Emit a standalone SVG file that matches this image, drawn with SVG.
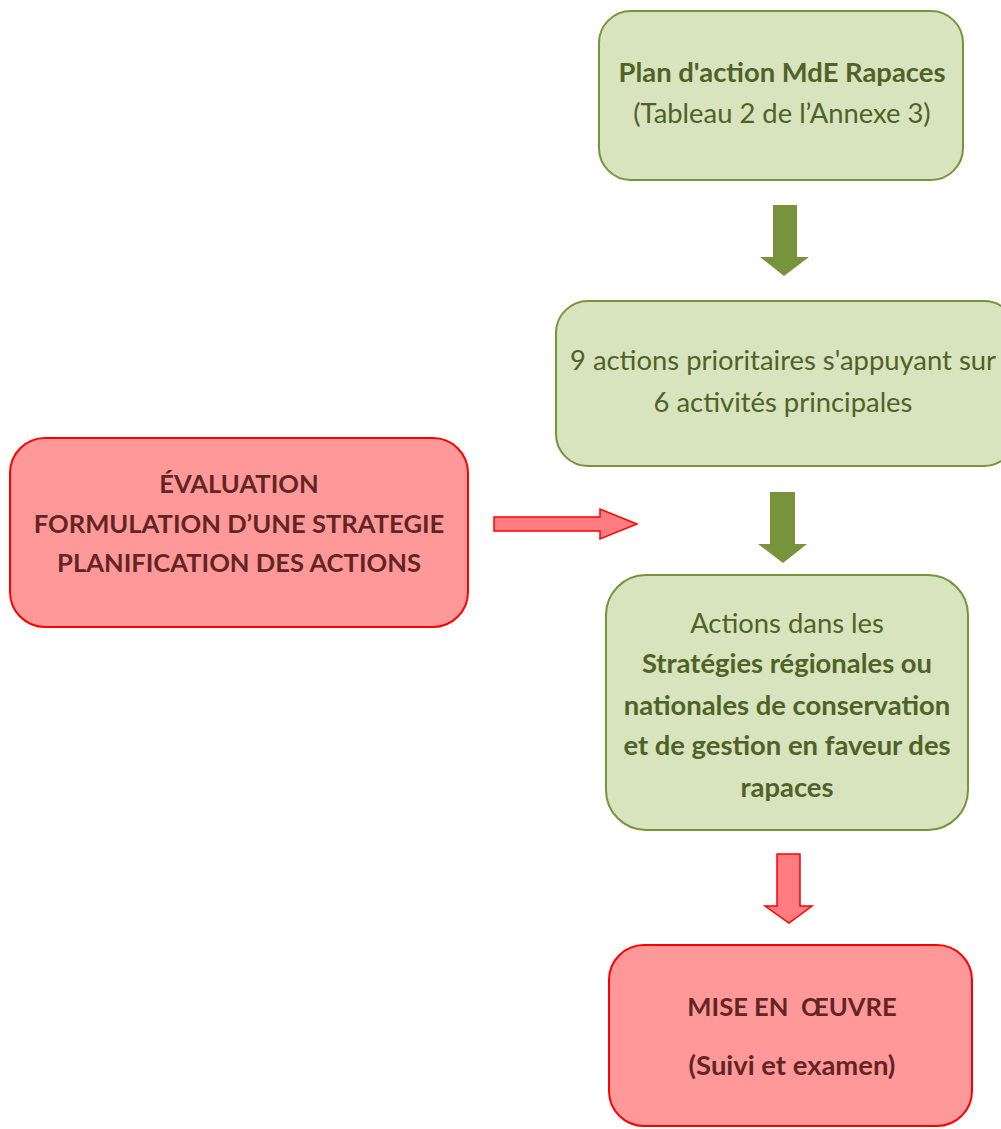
<svg xmlns="http://www.w3.org/2000/svg" width="1001" height="1129" viewBox="0 0 1001 1129">
<style>
.gbox{fill:#D7E4BD;stroke:#77933C;stroke-width:2}
.rbox{fill:#FF9999;stroke:#FF0000;stroke-width:2}
.garrow{fill:#77933C}
.rarrow{fill:#FF7C80;stroke:#FF0000;stroke-width:1.5}
text{font-family:Lato,"Liberation Sans",sans-serif;text-anchor:middle;font-size:27.4px}
.gt{fill:#4F6228}
.rt{fill:#632523;font-weight:bold}
.caps{font-size:25.6px}
.b{font-weight:bold}
</style>
<rect width="1001" height="1129" fill="#FFFFFF"/>
<g id="connectors">
<path class="garrow" d="M773,205 H797 V257 H809 L784,276 L760,257 H773 Z"/>
<path class="garrow" d="M770,492 H795 V544 H807 L783,563 L758,544 H770 Z"/>
<path class="rarrow" d="M494,517 H600 V509 L637,524 L600,539 V531 H494 Z"/>
<path class="rarrow" d="M777,854 H800 V906 H812 L789,923 L765,906 H777 Z"/>
</g>
<g id="plan">
<rect class="gbox" x="599" y="11" width="364" height="169" rx="32"/>
<text class="gt b" x="782" y="82">Plan d'action MdE Rapaces</text>
<text class="gt" x="782" y="123">(Tableau 2 de l’Annexe 3)</text>
</g>
<g id="actions9">
<rect class="gbox" x="556" y="301" width="460" height="165" rx="32"/>
<text class="gt" x="783" y="370">9 actions prioritaires s'appuyant sur</text>
<text class="gt" x="783" y="412">6 activités principales</text>
</g>
<g id="evaluation">
<rect class="rbox" x="10" y="438" width="458" height="189" rx="35"/>
<text class="rt caps" x="239" y="493">ÉVALUATION</text>
<text class="rt caps" x="239" y="533">FORMULATION D’UNE STRATEGIE</text>
<text class="rt caps" x="239" y="572">PLANIFICATION DES ACTIONS</text>
</g>
<g id="strategies">
<rect class="gbox" x="606" y="575" width="362" height="255" rx="40"/>
<text class="gt" x="787" y="633">Actions dans les</text>
<text class="gt b" x="787" y="673">Stratégies régionales ou</text>
<text class="gt b" x="787" y="715">nationales de conservation</text>
<text class="gt b" x="787" y="755">et de gestion en faveur des</text>
<text class="gt b" x="787" y="797">rapaces</text>
</g>
<g id="miseenoeuvre">
<rect class="rbox" x="609" y="945" width="363" height="181" rx="35"/>
<text class="rt caps" x="792" y="1016" xml:space="preserve">MISE EN  ŒUVRE</text>
<text class="rt" x="792" y="1075">(Suivi et examen)</text>
</g>
</svg>
